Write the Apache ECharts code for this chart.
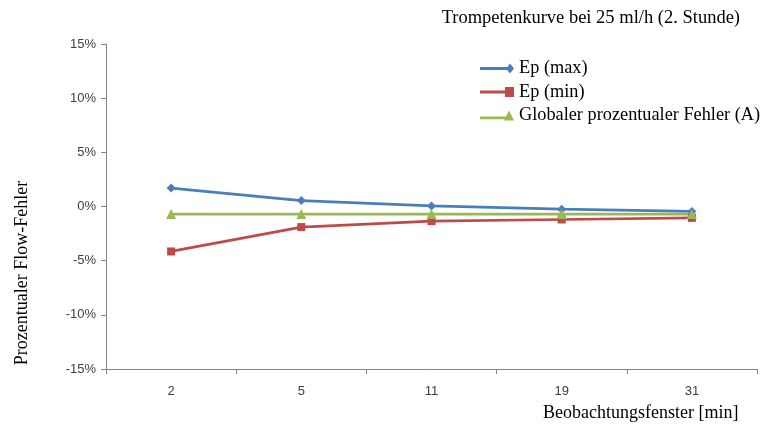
<!DOCTYPE html>
<html><head><meta charset="utf-8">
<script src="https://cdn.jsdelivr.net/npm/echarts@6/dist/echarts.min.js"></script>
<style>html,body{margin:0;padding:0;background:#fff}#c{width:769px;height:427px}</style>
</head><body><div id="c"></div>
<script>
const categories = ['2', '5', '11', '19', '31'];
const epMax = [1.7, 0.55, 0.05, -0.25, -0.45];
const epMin = [-4.15, -1.9, -1.35, -1.2, -1.05];
const globalErr = [-0.7, -0.7, -0.7, -0.7, -0.7];
const yTicks = [-15, -10, -5, 0, 5, 10, 15];

const serif = '"Liberation Serif", "Times New Roman", serif';
const sans = '"Liberation Sans", Arial, sans-serif';
const chart = echarts.init(document.getElementById('c'));
chart.setOption({
  animation: false,
  backgroundColor: '#fff',
  title: {
    text: 'Trompetenkurve bei 25 ml/h (2. Stunde)',
    right: 24, top: 4,
    textStyle: { fontFamily: serif, fontSize: 18.5, fontWeight: 'normal', color: '#000' }
  },
  grid: { left: 106, right: 12, top: 44, bottom: 58 },
  legend: {
    orient: 'vertical', left: 475, top: 53, itemGap: 2.5, itemWidth: 34, itemHeight: 10,
    textStyle: { fontFamily: serif, fontSize: 18.3, color: '#000', lineHeight: 21 },
    data: [
      { name: 'Ep (max)', icon: 'path://M0,3.6 L29,3.6 L29,6.4 L0,6.4 Z M30,0 L34,5 L30,10 L26,5 Z' },
      { name: 'Ep (min)', icon: 'path://M0,3.6 L26,3.6 L26,6.4 L0,6.4 Z M25,0 L34,0 L34,10 L25,10 Z' },
      { name: 'Globaler prozentualer Fehler (A)', icon: 'path://M0,6 L27,6 L27,8.8 L0,8.8 Z M29,0 L34,10 L24,10 Z' }
    ]
  },
  xAxis: {
    type: 'category', data: categories, boundaryGap: true,
    axisLine: { onZero: false, lineStyle: { color: '#868686' } },
    axisTick: { show: true, length: 5, lineStyle: { color: '#868686' } },
    axisLabel: { fontFamily: sans, fontSize: 13, color: '#404040', margin: 16 }
  },
  yAxis: {
    type: 'value', min: yTicks[0], max: yTicks[yTicks.length - 1], interval: 5,
    axisLine: { show: true, lineStyle: { color: '#868686' } },
    axisTick: { show: true, length: 5, lineStyle: { color: '#868686' } },
    splitLine: { show: false },
    axisLabel: { fontFamily: sans, fontSize: 13, color: '#404040', margin: 10, formatter: v => v + '%' }
  },
  graphic: [
    { type: 'text', left: 543, top: 404, style: { text: 'Beobachtungsfenster [min]', font: '18px ' + serif, fill: '#000' } },
    { type: 'text', x: 13, y: 273, rotation: Math.PI / 2, style: { text: 'Prozentualer Flow-Fehler', font: '18px ' + serif, fill: '#000', align: 'center', verticalAlign: 'top' } }
  ],
  series: [
    { name: 'Ep (max)', type: 'line', data: epMax, symbol: 'diamond', symbolSize: 9,
      itemStyle: { color: '#4a7ebb' }, lineStyle: { width: 2.75, color: '#4a7ebb' } },
    { name: 'Ep (min)', type: 'line', data: epMin, symbol: 'rect', symbolSize: 8,
      itemStyle: { color: '#be4b48' }, lineStyle: { width: 2.75, color: '#be4b48' } },
    { name: 'Globaler prozentualer Fehler (A)', type: 'line', data: globalErr, symbol: 'triangle', symbolSize: 10,
      itemStyle: { color: '#98b954' }, lineStyle: { width: 2.75, color: '#98b954' } }
  ]
});
</script></body></html>
